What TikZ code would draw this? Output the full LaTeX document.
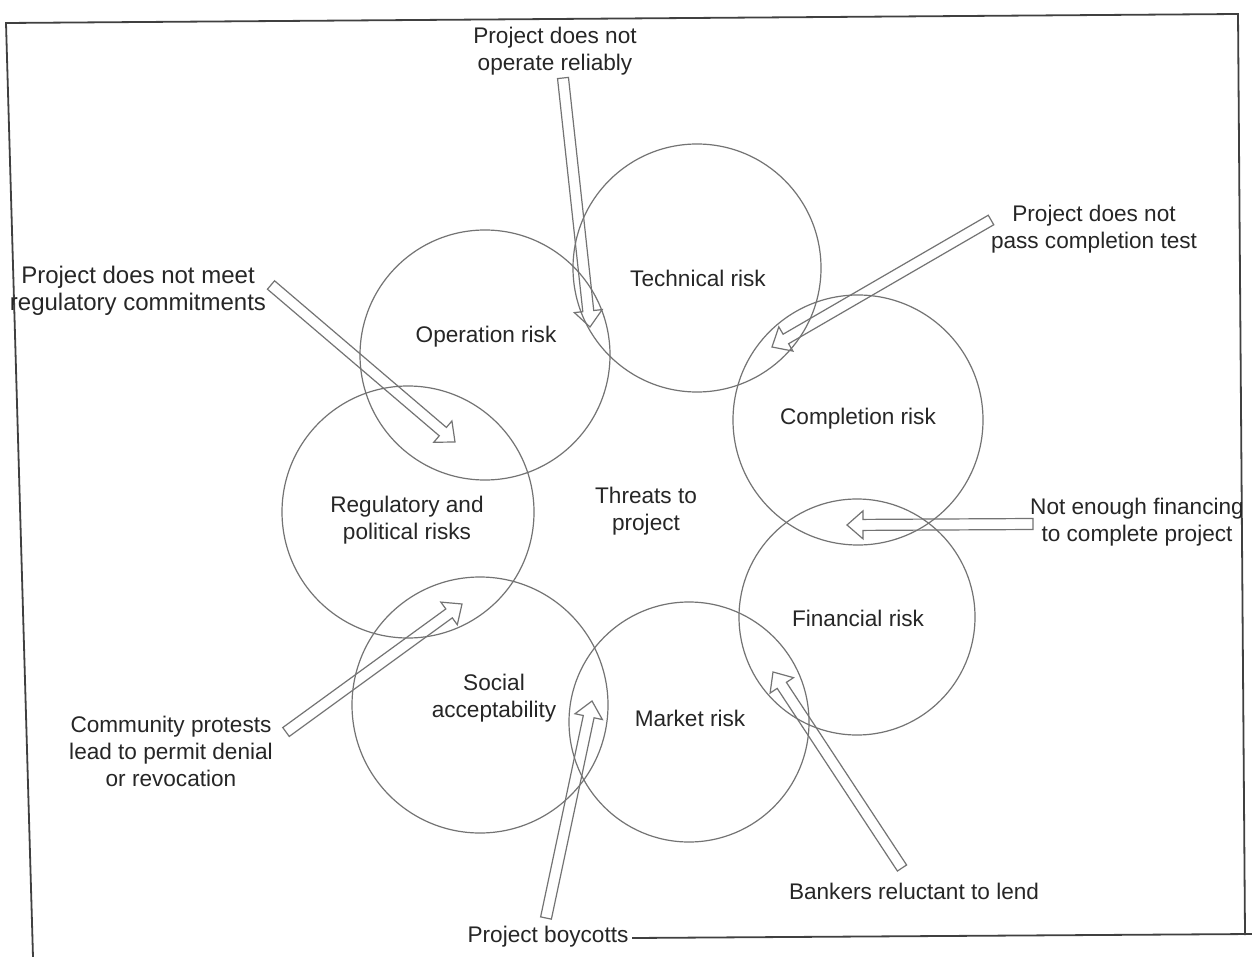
\documentclass[tikz,border=0pt]{standalone}
\usepackage{fontspec}
\setmainfont{Liberation Sans}
\usetikzlibrary{calc}
\newcommand\arrsw{2.75pt}
\newcommand\arrhw{7pt}
\newcommand\arrhl{8pt}
\newcommand\barrow[2]{%
  \coordinate (#2-b) at ($(#2)!\arrhl!(#1)$);
  \draw[barr] ($(#1)!\arrsw!90:(#2)$) -- ($(#2-b)!\arrsw!-90:(#1)$) -- ($(#2-b)!\arrhw!-90:(#1)$) -- (#2)
    -- ($(#2-b)!\arrhw!90:(#1)$) -- ($(#2-b)!\arrsw!90:(#1)$) -- ($(#1)!\arrsw!-90:(#2)$) -- cycle;}
\begin{document}
\begin{tikzpicture}[x=0.5pt,y=-0.5pt,
  ring/.style={circle, draw=black!55, line width=0.6pt, inner sep=0pt},
  lbl/.style={text=black!85, font=\fontsize{11.3}{13.5}\selectfont, align=center, inner sep=0pt},
  barr/.style={draw=black!55, line width=0.6pt, line join=miter},
  frame/.style={draw=black!75, line width=0.9pt}]
\useasboundingbox (0,0) rectangle (1252,957);
\fill[white] (0,0) rectangle (1252,957);
% frame
\draw[frame] (632,938) -- (1252,934);
\draw[frame] (33,957) -- (6,23) -- (1238,14) -- (1245,935);
% circles
\node[ring, minimum size=124pt] (tech) at (697,268) {};
\node[ring, minimum size=125pt] (oper) at (485,355) {};
\node[ring, minimum size=125pt] (comp) at (858,420) {};
\node[ring, minimum size=126pt] (regu) at (408,512) {};
\node[ring, minimum size=118pt] (fina) at (857,617) {};
\node[ring, minimum size=128pt] (soci) at (480,705) {};
\node[ring, minimum size=120pt] (mark) at (689,722) {};
% circle texts
\node[lbl] (ttech) at (698,278) {Technical risk};
\node[lbl] (toper) at (486,337) {Operation risk};
\node[lbl] (tcomp) at (858,419) {Completion risk};
\node[lbl] (tregu) at (407,520) {Regulatory and\\political risks};
\node[lbl] (tthreat) at (646,511) {Threats to\\project};
\node[lbl] (tfina) at (858,618) {Financial risk};
\node[lbl] (tsoci) at (494,698) {Social\\acceptability};
\node[lbl] (tmark) at (690,718) {Market risk};
% outer labels
\node[lbl] (lrel) at (555,51) {Project does not\\operate reliably};
\node[lbl] (lcomp) at (1094,229) {Project does not\\pass completion test};
\node[lbl, font=\fontsize{12}{13.5}\selectfont] (lregu) at (138,291) {Project does not meet\\regulatory commitments};
\node[lbl] (lfin) at (1137,522) {Not enough financing\\to complete project};
\node[lbl] (lcomm) at (171,751) {Community protests\\lead to permit denial\\or revocation};
\node[lbl] (lbank) at (914,891) {Bankers reluctant to lend};
\node[lbl] (lboy) at (548,937) {Project boycotts};
% arrow ends
\coordinate (a1t) at (563,78);   \coordinate (a1h) at (590,327);
\coordinate (a2t) at (991,220);  \coordinate (a2h) at (772,347);
\coordinate (a3t) at (271,285);  \coordinate (a3h) at (455,442);
\coordinate (a4t) at (1033,524); \coordinate (a4h) at (847,525);
\coordinate (a5t) at (286,732);  \coordinate (a5h) at (462,604);
\coordinate (a6t) at (546,918);  \coordinate (a6h) at (592,701);
\coordinate (a7t) at (902,868);  \coordinate (a7h) at (773,672);
\barrow{a1t}{a1h}
\barrow{a2t}{a2h}
\barrow{a3t}{a3h}
\barrow{a4t}{a4h}
\barrow{a5t}{a5h}
\barrow{a6t}{a6h}
\barrow{a7t}{a7h}
\end{tikzpicture}
\end{document}
